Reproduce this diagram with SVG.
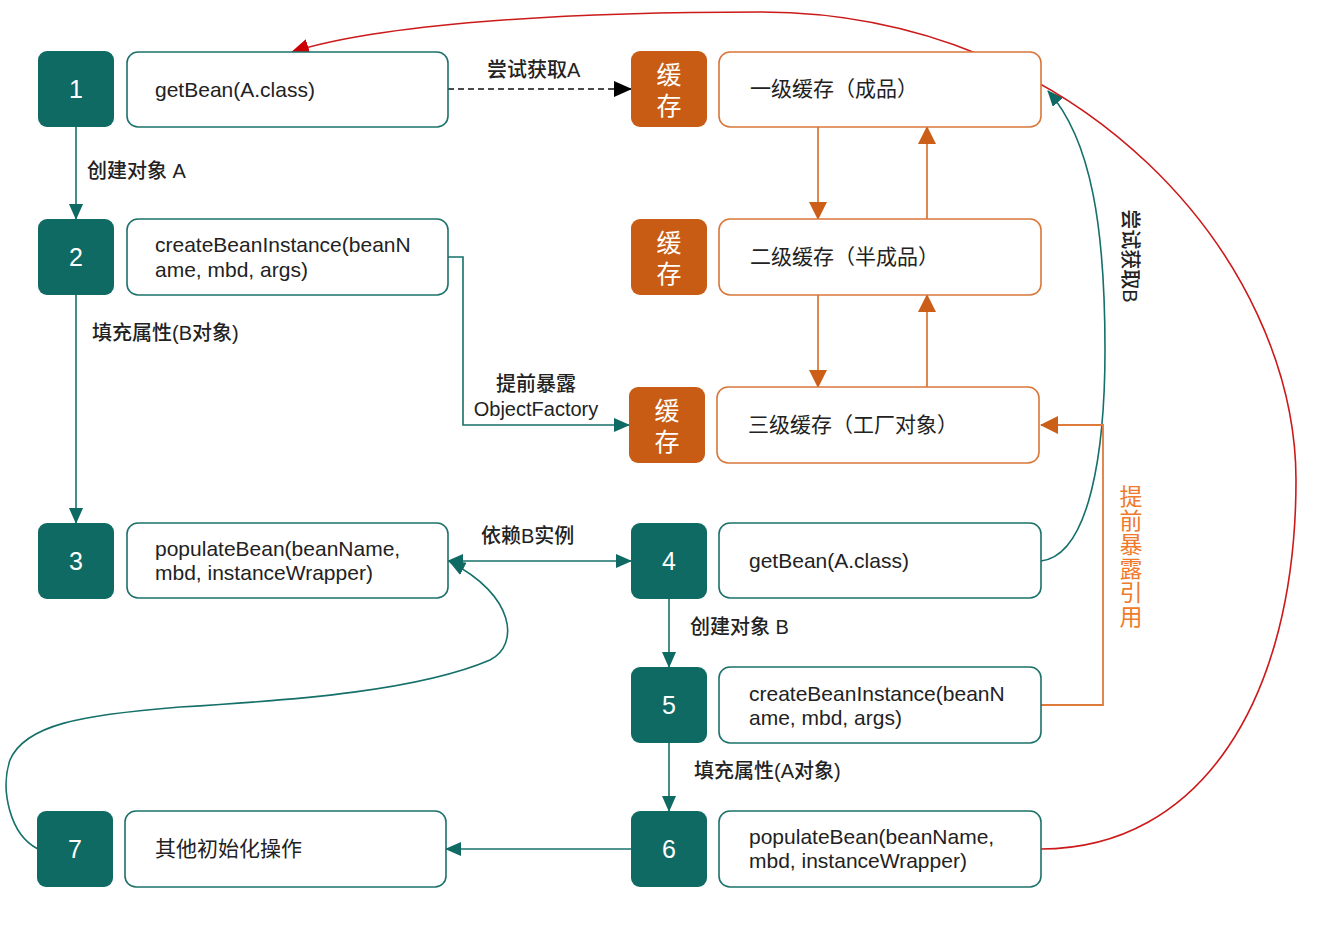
<svg xmlns="http://www.w3.org/2000/svg" width="1319" height="934" viewBox="0 0 1319 934">
<style>
text{font-family:"Liberation Sans","Noto Sans CJK SC",sans-serif;fill:#222}
.num{font-size:25px;fill:#fff;text-anchor:middle}
.cache{font-size:25px;fill:#fff;text-anchor:middle}
.bt{font-size:21px}
.lb{font-size:20px;font-weight:500}
.sq{fill:#0f6a64}
.cq{fill:#c85c14}
.tb{fill:#fff;stroke:#1d716b;stroke-width:1.6}
.ob{fill:#fff;stroke:#d9773a;stroke-width:1.6}
.tl{fill:none;stroke:#15706a;stroke-width:1.6}
.ol{fill:none;stroke:#dd7a3c;stroke-width:1.8}
.rl{fill:none;stroke:#cc1a1a;stroke-width:1.6}
.ot{font-size:23px;text-anchor:middle;fill:#ef7a2c}
</style>
<defs>
<marker id="at" viewBox="0 0 16 14" refX="15" refY="7" markerWidth="16" markerHeight="14" markerUnits="userSpaceOnUse" orient="auto-start-reverse"><path d="M0,0 L16,7 L0,14 z" fill="#0f6a64"/></marker>
<marker id="ao" viewBox="0 0 18 18" refX="17" refY="9" markerWidth="18" markerHeight="18" markerUnits="userSpaceOnUse" orient="auto"><path d="M0,0 L18,9 L0,18 z" fill="#cc5f18"/></marker>
<marker id="ab" viewBox="0 0 18 16" refX="17" refY="8" markerWidth="18" markerHeight="16" markerUnits="userSpaceOnUse" orient="auto"><path d="M0,0 L18,8 L0,16 z" fill="#000"/></marker>
<marker id="ar" viewBox="0 0 18 16" refX="17" refY="8" markerWidth="18" markerHeight="16" markerUnits="userSpaceOnUse" orient="auto"><path d="M0,0 L18,8 L0,16 z" fill="#cc0000"/></marker>
</defs>
<rect width="1319" height="934" fill="#fff"/>

<g id="connectors">
<line x1="76" y1="127" x2="76" y2="219" class="tl" marker-end="url(#at)"/>
<line x1="76" y1="295" x2="76" y2="523" class="tl" marker-end="url(#at)"/>
<line x1="448" y1="89" x2="631" y2="89" fill="none" stroke="#111" stroke-width="1.6" stroke-dasharray="6,4" marker-end="url(#ab)"/>
<polyline points="448,257 463,257 463,425 629,425" class="tl" marker-end="url(#at)"/>
<line x1="818" y1="127" x2="818" y2="219" class="ol" marker-end="url(#ao)"/>
<line x1="927" y1="219" x2="927" y2="127" class="ol" marker-end="url(#ao)"/>
<line x1="818" y1="295" x2="818" y2="387" class="ol" marker-end="url(#ao)"/>
<line x1="927" y1="387" x2="927" y2="295" class="ol" marker-end="url(#ao)"/>
<line x1="448" y1="561" x2="631" y2="561" class="tl" marker-start="url(#at)" marker-end="url(#at)"/>
<line x1="669" y1="598" x2="669" y2="667" class="tl" marker-end="url(#at)"/>
<line x1="669" y1="743" x2="669" y2="811" class="tl" marker-end="url(#at)"/>
<line x1="631" y1="849" x2="446" y2="849" class="tl" marker-end="url(#at)"/>
<path d="M38,849 C10,835 0,790 10,760 C25,725 80,715 180,707 C300,700 420,690 490,660 C520,645 515,595 450,562" class="tl" marker-end="url(#at)"/>
<path d="M1041,561 C1090,555 1105,450 1105,350 C1105,230 1092,140 1048,91" class="tl" marker-end="url(#at)"/>
<polyline points="1041,705 1103,705 1103,425 1041,425" class="ol" marker-end="url(#ao)"/>
<path d="M1041,849 C1200,849 1296,700 1296,480 C1296,260 1080,12 760,12 C560,12 380,24 292,52" class="rl" marker-end="url(#ar)"/>
<text class="lb" x="487" y="77">尝试获取A</text>
<text class="lb" x="87" y="178">创建对象 A</text>
<text class="lb" x="92" y="340">填充属性(B对象)</text>
<text class="lb" x="536" y="391" text-anchor="middle">提前暴露</text>
<text class="lb" x="536" y="416" text-anchor="middle">ObjectFactory</text>
<text class="lb" x="481" y="543">依赖B实例</text>
<text class="lb" x="690" y="634">创建对象 B</text>
<text class="lb" x="694" y="778">填充属性(A对象)</text>
<text class="lb" transform="translate(1123,256) rotate(90)" text-anchor="middle">尝试获取B</text>
<text class="ot" x="1131" y="505">提</text>
<text class="ot" x="1131" y="529">前</text>
<text class="ot" x="1131" y="553">暴</text>
<text class="ot" x="1131" y="577">露</text>
<text class="ot" x="1131" y="601">引</text>
<text class="ot" x="1131" y="625">用</text>
</g>

<g id="n1"><rect x="38" y="51" width="76" height="76" rx="9" class="sq"/><text class="num" x="76" y="98">1</text></g>
<g id="b1"><rect x="127" y="52" width="321" height="75" rx="11" class="tb"/><text class="bt" x="155" y="97">getBean(A.class)</text></g>
<g id="n2"><rect x="38" y="219" width="76" height="76" rx="9" class="sq"/><text class="num" x="76" y="266">2</text></g>
<g id="b2"><rect x="127" y="219" width="321" height="76" rx="11" class="tb"/><text class="bt" x="155" y="252">createBeanInstance(beanN</text><text class="bt" x="155" y="277">ame, mbd, args)</text></g>
<g id="n3"><rect x="38" y="523" width="76" height="76" rx="9" class="sq"/><text class="num" x="76" y="570">3</text></g>
<g id="b3"><rect x="127" y="523" width="321" height="75" rx="11" class="tb"/><text class="bt" x="155" y="556">populateBean(beanName,</text><text class="bt" x="155" y="580">mbd, instanceWrapper)</text></g>
<g id="n7"><rect x="37" y="811" width="76" height="76" rx="9" class="sq"/><text class="num" x="75" y="858">7</text></g>
<g id="b7"><rect x="125" y="811" width="321" height="76" rx="11" class="tb"/><text class="bt" x="155" y="856">其他初始化操作</text></g>

<g id="c1"><rect x="631" y="51" width="76" height="76" rx="9" class="cq"/><text class="cache" x="669" y="84">缓</text><text class="cache" x="669" y="115">存</text></g>
<g id="l1"><rect x="719" y="52" width="322" height="75" rx="11" class="ob"/><text class="bt" x="750" y="96">一级缓存（成品）</text></g>
<g id="c2"><rect x="631" y="219" width="76" height="76" rx="9" class="cq"/><text class="cache" x="669" y="252">缓</text><text class="cache" x="669" y="283">存</text></g>
<g id="l2"><rect x="719" y="219" width="322" height="76" rx="11" class="ob"/><text class="bt" x="750" y="264">二级缓存（半成品）</text></g>
<g id="c3"><rect x="629" y="387" width="76" height="76" rx="9" class="cq"/><text class="cache" x="667" y="420">缓</text><text class="cache" x="667" y="451">存</text></g>
<g id="l3"><rect x="717" y="387" width="322" height="76" rx="11" class="ob"/><text class="bt" x="748" y="432">三级缓存（工厂对象）</text></g>

<g id="n4"><rect x="631" y="523" width="76" height="76" rx="9" class="sq"/><text class="num" x="669" y="570">4</text></g>
<g id="b4"><rect x="719" y="523" width="322" height="75" rx="11" class="tb"/><text class="bt" x="749" y="568">getBean(A.class)</text></g>
<g id="n5"><rect x="631" y="667" width="76" height="76" rx="9" class="sq"/><text class="num" x="669" y="714">5</text></g>
<g id="b5"><rect x="719" y="667" width="322" height="76" rx="11" class="tb"/><text class="bt" x="749" y="701">createBeanInstance(beanN</text><text class="bt" x="749" y="725">ame, mbd, args)</text></g>
<g id="n6"><rect x="631" y="811" width="76" height="76" rx="9" class="sq"/><text class="num" x="669" y="858">6</text></g>
<g id="b6"><rect x="719" y="811" width="322" height="76" rx="11" class="tb"/><text class="bt" x="749" y="844">populateBean(beanName,</text><text class="bt" x="749" y="868">mbd, instanceWrapper)</text></g>
</svg>
